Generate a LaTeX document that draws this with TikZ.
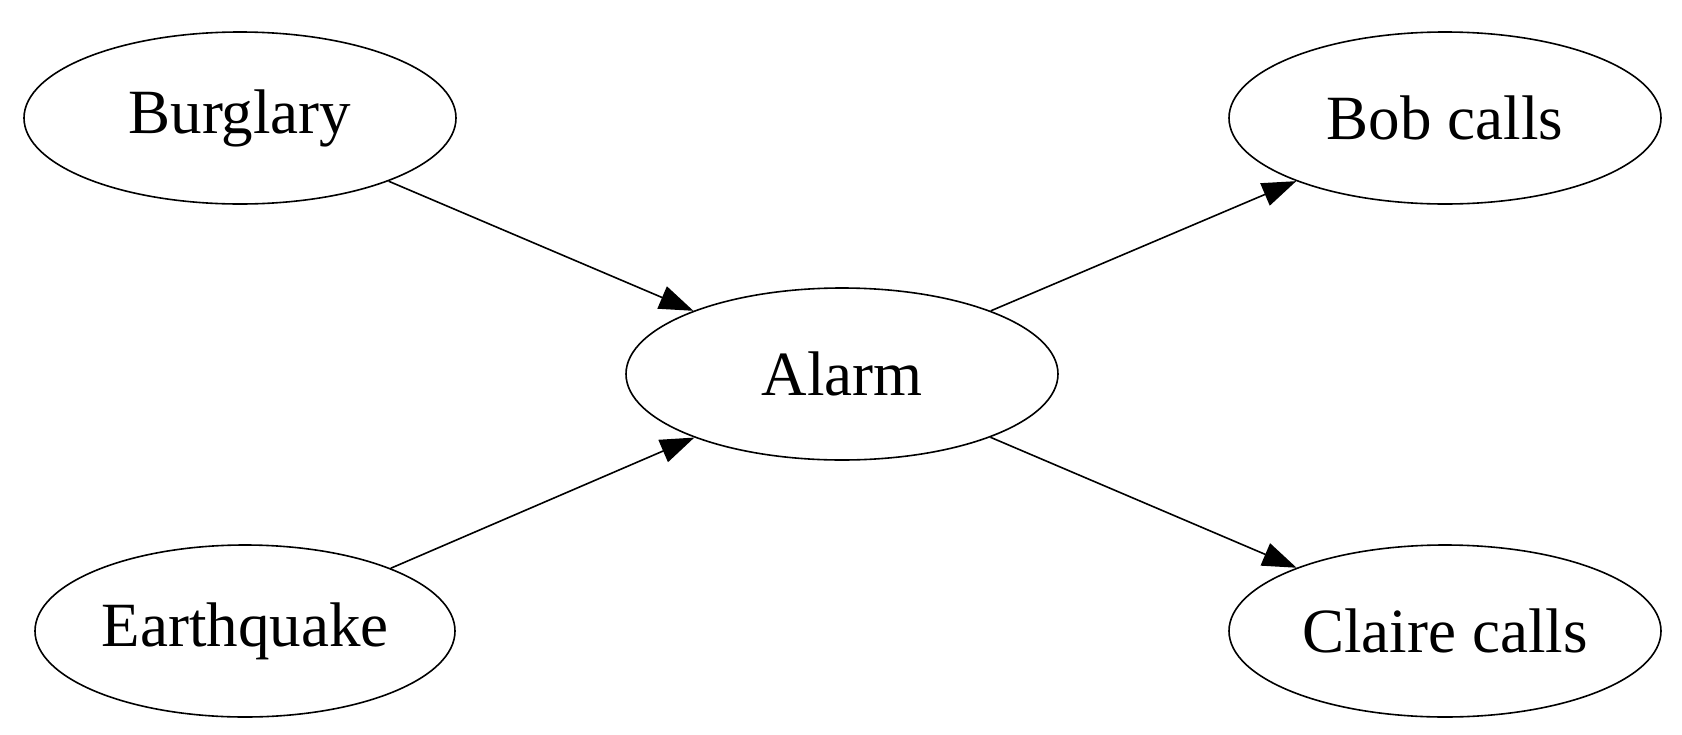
\documentclass[tikz,border=0pt]{standalone}
\usepackage{fontspec}
\setmainfont{Liberation Serif}
\usetikzlibrary{shapes.geometric,arrows.meta}
\begin{document}
\begin{tikzpicture}[x=1pt,y=-1pt,
  nd/.style={ellipse,draw,line width=1.6pt,minimum width=432pt,minimum height=172pt,inner sep=0pt,font=\fontsize{63}{63}\selectfont},
  ed/.style={line width=1.6pt,-{Triangle[length=34pt,width=24pt]}}]
\useasboundingbox (0,0) rectangle (1682,734);
\node[nd] (b) at (240,118) {Burglary};
\node[nd,minimum width=420pt] (e) at (245,631) {Earthquake};
\node[nd] (a) at (842,374) {Alarm};
\node[nd] (bob) at (1445,118) {Bob calls};
\node[nd] (c) at (1445,631) {Claire calls};
\draw[ed] (b) -- (a);
\draw[ed] (e) -- (a);
\draw[ed] (a) -- (bob);
\draw[ed] (a) -- (c);
\end{tikzpicture}
\end{document}
